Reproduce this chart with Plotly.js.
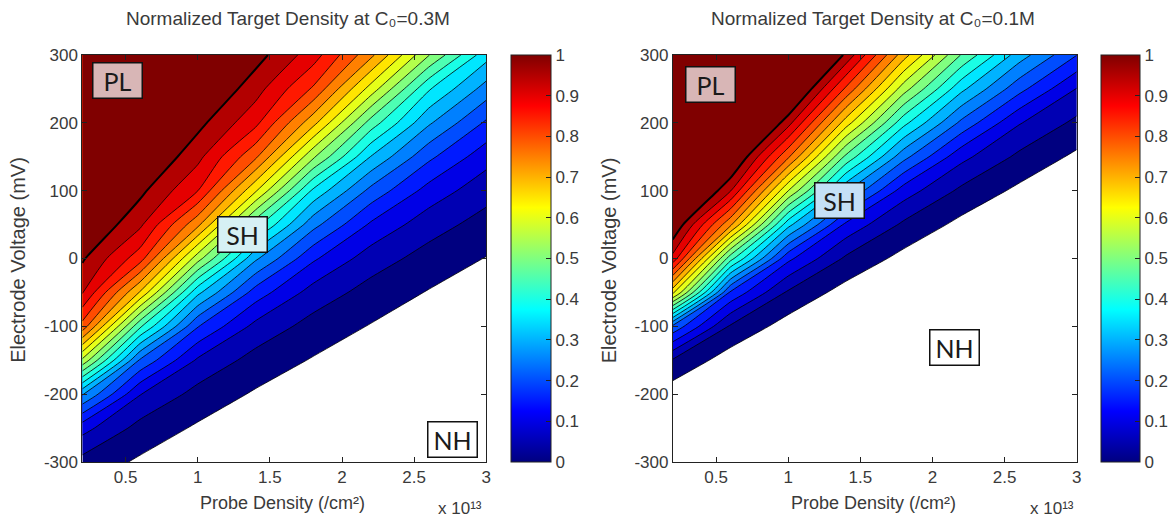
<!DOCTYPE html>
<html>
<head>
<meta charset="utf-8">
<script src="https://cdn.plot.ly/plotly-3.0.1.min.js"></script>
<style>html,body{margin:0;padding:0;background:#fff;}#chart{width:1175px;height:518px;}</style>
</head>
<body>
<div id="chart"></div>
<script>
// Probe density, in units of 10^13 /cm^2 (grid columns)
const probeDensity = [0.2, 0.6, 1.0, 1.4, 1.8, 2.2, 2.6, 3.0];
// Electrode voltage in mV (grid rows)
const electrodeVoltage = [-300, -250, -200, -150, -100, -50, 0, 50, 100, 150, 200, 250, 300];

// Normalized target density at C0 = 0.3 M (rows follow electrodeVoltage)
const densityC03 = [
  [0.032, -0.008, -0.045, -0.05, -0.05, -0.05, -0.05, -0.05],
  [0.118, 0.032, -0.007, -0.043, -0.05, -0.05, -0.05, -0.05],
  [0.305, 0.102, 0.032, -0.006, -0.039, -0.05, -0.05, -0.05],
  [0.589, 0.243, 0.092, 0.031, -0.004, -0.038, -0.05, -0.05],
  [0.831, 0.459, 0.203, 0.085, 0.031, -0.003, -0.036, -0.05],
  [0.954, 0.695, 0.363, 0.177, 0.079, 0.031, -0.003, -0.034],
  [1.007, 0.872, 0.571, 0.309, 0.158, 0.074, 0.031, -0.002],
  [1.061, 0.960, 0.763, 0.469, 0.267, 0.142, 0.071, 0.031],
  [1.114, 1.013, 0.901, 0.657, 0.390, 0.235, 0.131, 0.068],
  [1.12, 1.065, 0.965, 0.810, 0.559, 0.348, 0.212, 0.120],
  [1.12, 1.117, 1.016, 0.914, 0.717, 0.478, 0.308, 0.192],
  [1.12, 1.12, 1.067, 0.971, 0.843, 0.629, 0.406, 0.279],
  [1.12, 1.12, 1.118, 1.021, 0.924, 0.763, 0.553, 0.369]
];

// Normalized target density at C0 = 0.1 M
const densityC01 = [
  [-0.08, -0.08, -0.08, -0.08, -0.08, -0.08, -0.08, -0.08],
  [-0.08, -0.08, -0.08, -0.08, -0.08, -0.08, -0.08, -0.08],
  [-0.029, -0.08, -0.08, -0.08, -0.08, -0.08, -0.08, -0.08],
  [0.044, -0.026, -0.08, -0.08, -0.08, -0.08, -0.08, -0.08],
  [0.238, 0.043, -0.022, -0.08, -0.08, -0.08, -0.08, -0.08],
  [0.667, 0.191, 0.042, -0.020, -0.071, -0.08, -0.08, -0.08],
  [0.933, 0.469, 0.162, 0.041, -0.016, -0.067, -0.08, -0.08],
  [1.052, 0.760, 0.367, 0.139, 0.040, -0.014, -0.061, -0.08],
  [1.166, 0.953, 0.601, 0.307, 0.126, 0.039, -0.011, -0.058],
  [1.28, 1.078, 0.808, 0.488, 0.267, 0.115, 0.039, -0.010],
  [1.3, 1.203, 0.969, 0.675, 0.416, 0.238, 0.104, 0.038],
  [1.3, 1.3, 1.108, 0.841, 0.573, 0.363, 0.217, 0.098],
  [1.3, 1.3, 1.234, 0.988, 0.722, 0.497, 0.325, 0.201]
];

const contourLevels = {start: 0, end: 1, size: 0.05};
const xTickVals = [0.5, 1, 1.5, 2, 2.5, 3];
const xTickText = ['0.5', '1', '1.5', '2', '2.5', '3'];
const yTickVals = [-300, -200, -100, 0, 100, 200, 300];
const yTickText = ['-300', '-200', '-100', '0', '100', '200', '300'];
const cbTickVals = [0, 0.1, 0.2, 0.3, 0.4, 0.5, 0.6, 0.7, 0.8, 0.9, 1];
const cbTickText = ['0', '0.1', '0.2', '0.3', '0.4', '0.5', '0.6', '0.7', '0.8', '0.9', '1'];
const panelTitles = ['Normalized Target Density at C\u2080=0.3M', 'Normalized Target Density at C\u2080=0.1M'];
const xTitle = 'Probe Density (/cm\u00B2)';
const yTitle = 'Electrode Voltage (mV)';
const exponentLabel = 'x 10\u00B9\u00B3';
const regionLabels = ['PL', 'SH', 'NH'];

// ---------- styling ----------
const W = 1175, H = 518;
const px = v => v / W;
const py = v => 1 - v / H;
const FONT = 'Liberation Sans, Arial, Helvetica, DejaVu Sans, sans-serif';
const TXT = '#3a3a3a';

function jet(v) {
  const c = t => Math.round(255 * Math.max(0, Math.min(1, t)));
  return 'rgb(' + c(Math.min(4 * v - 1.5, -4 * v + 4.5)) + ',' +
    c(Math.min(4 * v - 0.5, -4 * v + 3.5)) + ',' +
    c(Math.min(4 * v + 0.5, -4 * v + 2.5)) + ')';
}
const jetScale = [[0, jet(0)], [0.125, jet(0.125)], [0.375, jet(0.375)], [0.625, jet(0.625)], [0.875, jet(0.875)], [1, jet(1)]];

// banded fill: area below the lowest level stays white, each band coloured by its lower level
const nLev = Math.round((contourLevels.end - contourLevels.start) / contourLevels.size) + 1;
const fillScale = [[0, 'rgb(255,255,255)']];
for (let i = 0; i < nLev; i++) {
  fillScale.push([(i + 1) / nLev, jet(Math.min(1, contourLevels.start + i * contourLevels.size))]);
}

const panels = [
  {z: densityC03, xa: 'x', ya: 'y', dom: [83, 490], cb: 515, cbw: 40, title: 290, yt: 18, xt: 285, exp: 464,
   boxes: [[118, 80, 'rgb(216,182,182)'], [244, 234, 'rgb(214,240,244)'], [456, 439, 'rgb(255,255,255)']]},
  {z: densityC01, xa: 'x2', ya: 'y2', dom: [678, 1085], cb: 1110, cbw: 39, title: 880, yt: 614, xt: 880, exp: 1060,
   boxes: [[716, 84, 'rgb(216,182,182)'], [846, 200, 'rgb(196,224,246)'], [962, 347, 'rgb(255,255,255)']]}
];

const data = [];
const annotations = [];
const layout = {
  width: W, height: H, margin: {l: 0, r: 0, t: 0, b: 0},
  paper_bgcolor: '#fff', plot_bgcolor: '#fff', showlegend: false,
  font: {family: FONT, color: TXT, size: 16}
};

panels.forEach((p, k) => {
  data.push({
    type: 'contour', x: probeDensity, y: electrodeVoltage, z: p.z,
    xaxis: p.xa, yaxis: p.ya, autocontour: false,
    contours: {start: contourLevels.start, end: contourLevels.end, size: contourLevels.size, coloring: 'fill', showlines: true},
    colorscale: fillScale, showscale: false,
    line: {color: '#000', width: 0.8, smoothing: 0.6}, hoverinfo: 'skip'
  });
  data.push({
    type: 'contour', x: probeDensity, y: electrodeVoltage, z: p.z,
    xaxis: p.xa, yaxis: p.ya, autocontour: false,
    contours: {start: contourLevels.end, end: contourLevels.end, size: 1, coloring: 'none'},
    showscale: false, line: {color: '#000', width: 2, smoothing: 0.6}, hoverinfo: 'skip'
  });
  data.push({
    type: 'scatter', mode: 'markers', x: [null], y: [null], xaxis: p.xa, yaxis: p.ya,
    hoverinfo: 'skip', showlegend: false,
    marker: {
      color: [0], cmin: 0, cmax: 1, colorscale: jetScale, showscale: true, opacity: 0,
      colorbar: {
        x: px(p.cb), xanchor: 'left', y: py(258.5), yanchor: 'middle',
        lenmode: 'pixels', len: 407, thicknessmode: 'pixels', thickness: p.cbw,
        xpad: 0, ypad: 0, outlinewidth: 1, outlinecolor: '#222',
        tickmode: 'array', tickvals: cbTickVals, ticktext: cbTickText,
        ticks: 'inside', ticklen: 5, tickcolor: '#222',
        tickfont: {family: FONT, size: 17, color: TXT}
      }
    }
  });
  const axStyle = {
    showline: true, linecolor: '#222', linewidth: 1, mirror: 'ticks',
    ticks: 'inside', ticklen: 5, tickcolor: '#222', showgrid: false, zeroline: false,
    tickfont: {family: FONT, size: 17, color: TXT}, automargin: false, fixedrange: true
  };
  const xName = k === 0 ? 'xaxis' : 'xaxis2';
  const yName = k === 0 ? 'yaxis' : 'yaxis2';
  layout[xName] = Object.assign({}, axStyle, {
    domain: [px(p.dom[0]), px(p.dom[1])], range: [0.2, 3], anchor: p.ya,
    tickmode: 'array', tickvals: xTickVals, ticktext: xTickText
  });
  layout[yName] = Object.assign({}, axStyle, {
    domain: [py(462), py(55)], range: [-300, 300], anchor: p.xa,
    tickmode: 'array', tickvals: yTickVals, ticktext: yTickText
  });
  annotations.push({text: panelTitles[k], x: px(p.title), y: py(18), xref: 'paper', yref: 'paper',
    xanchor: 'center', yanchor: 'middle', showarrow: false, font: {family: FONT, size: 19, color: TXT}});
  annotations.push({text: yTitle, x: px(p.yt), y: py(260), xref: 'paper', yref: 'paper',
    xanchor: 'center', yanchor: 'middle', textangle: -90, showarrow: false, font: {family: FONT, size: 20, color: TXT}});
  annotations.push({text: xTitle, x: px(p.xt), y: py(503), xref: 'paper', yref: 'paper',
    xanchor: 'center', yanchor: 'middle', showarrow: false, font: {family: FONT, size: 18, color: TXT}});
  annotations.push({text: exponentLabel, x: px(p.exp), y: py(508), xref: 'paper', yref: 'paper',
    xanchor: 'center', yanchor: 'middle', showarrow: false, font: {family: FONT, size: 17, color: TXT}});
  p.boxes.forEach((b, j) => {
    annotations.push({text: regionLabels[j], x: px(b[0]), y: py(b[1]), xref: 'paper', yref: 'paper',
      xanchor: 'center', yanchor: 'middle', showarrow: false,
      width: 46, height: 32, bgcolor: b[2], bordercolor: '#111', borderwidth: 1.5, borderpad: 1,
      font: {family: 'Lato, Open Sans, sans-serif', size: 25, color: '#1a1a1a'}});
  });
});
layout.annotations = annotations;

Plotly.newPlot('chart', data, layout, {staticPlot: true, displayModeBar: false});
</script>
</body>
</html>
